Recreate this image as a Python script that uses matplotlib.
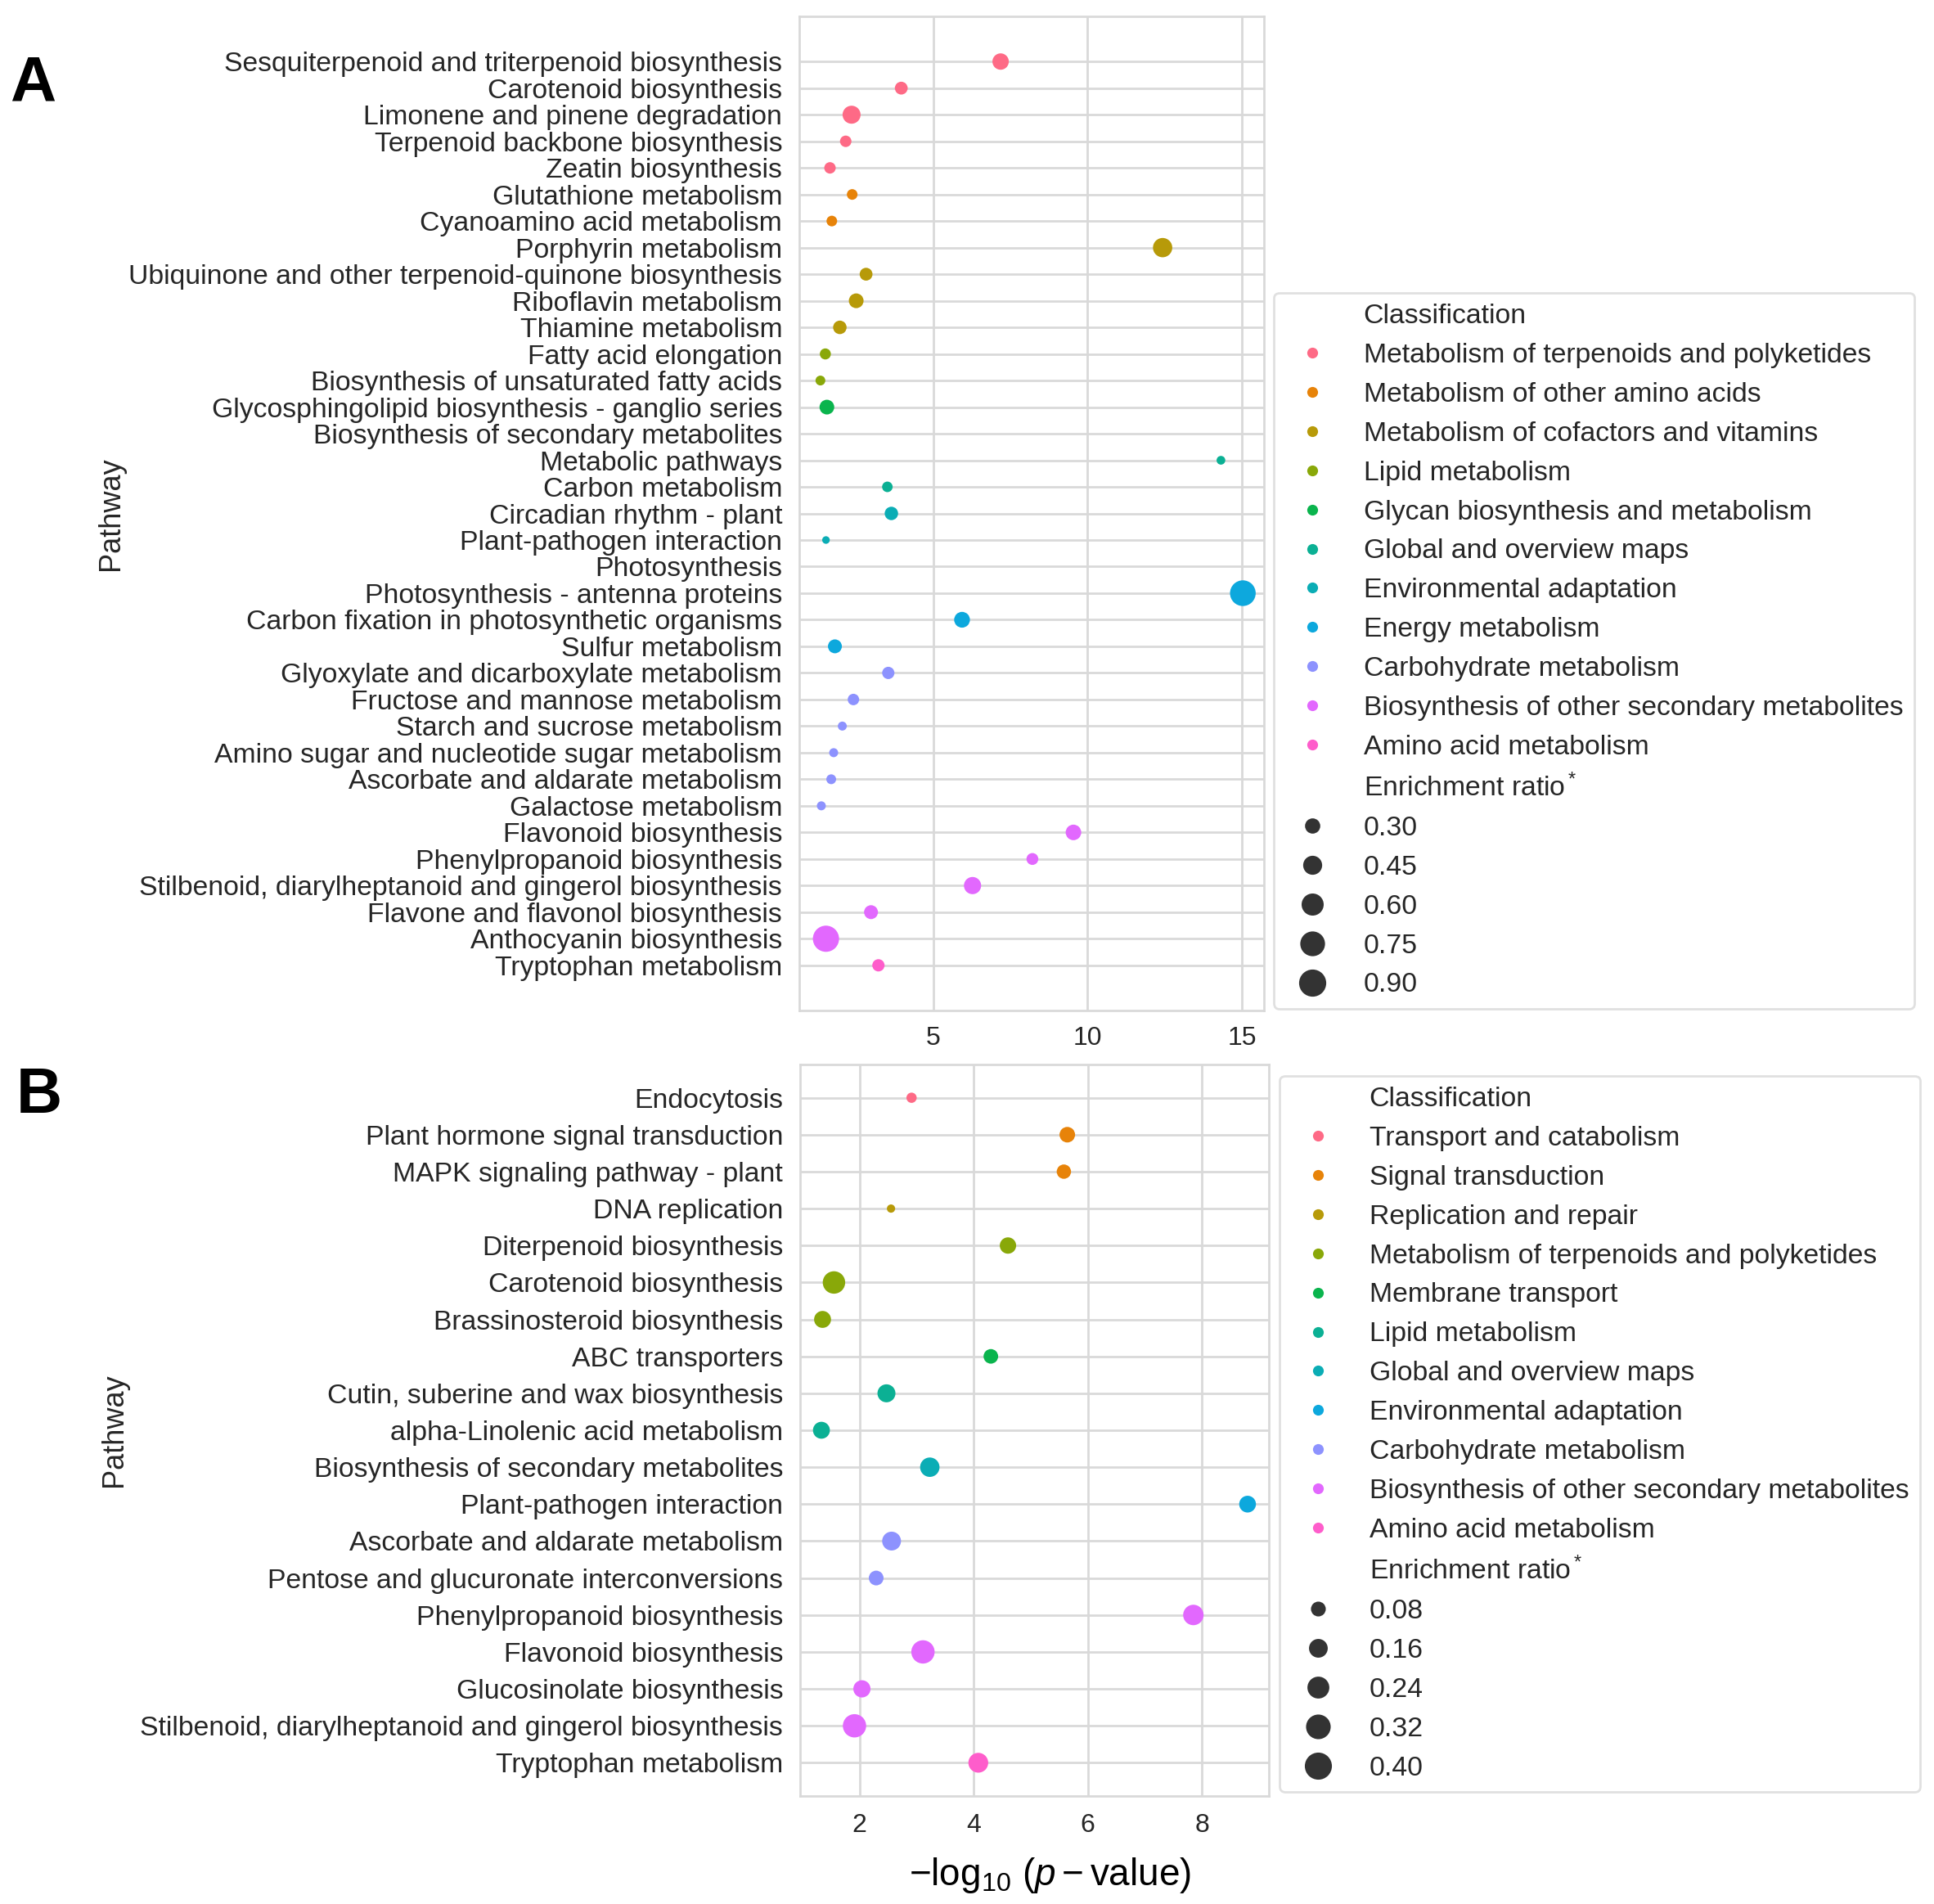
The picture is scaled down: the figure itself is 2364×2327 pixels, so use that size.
import numpy as np
import matplotlib
matplotlib.use("Agg")
import matplotlib.pyplot as plt
from matplotlib.lines import Line2D
import seaborn as sns

sns.set_style("whitegrid")
plt.rcParams["font.family"] = ["Liberation Sans", "DejaVu Sans"]
plt.rcParams["mathtext.fontset"] = "custom"
plt.rcParams["mathtext.rm"] = "Liberation Sans"
plt.rcParams["mathtext.it"] = "Liberation Sans:italic"
plt.rcParams["mathtext.bf"] = "Liberation Sans:bold"

# ---------------- Panel A data ----------------
a_pathways = [
    "Sesquiterpenoid and triterpenoid biosynthesis", "Carotenoid biosynthesis",
    "Limonene and pinene degradation", "Terpenoid backbone biosynthesis",
    "Zeatin biosynthesis", "Glutathione metabolism", "Cyanoamino acid metabolism",
    "Porphyrin metabolism", "Ubiquinone and other terpenoid-quinone biosynthesis",
    "Riboflavin metabolism", "Thiamine metabolism", "Fatty acid elongation",
    "Biosynthesis of unsaturated fatty acids",
    "Glycosphingolipid biosynthesis - ganglio series",
    "Biosynthesis of secondary metabolites", "Metabolic pathways",
    "Carbon metabolism", "Circadian rhythm - plant", "Plant-pathogen interaction",
    "Photosynthesis", "Photosynthesis - antenna proteins",
    "Carbon fixation in photosynthetic organisms", "Sulfur metabolism",
    "Glyoxylate and dicarboxylate metabolism", "Fructose and mannose metabolism",
    "Starch and sucrose metabolism", "Amino sugar and nucleotide sugar metabolism",
    "Ascorbate and aldarate metabolism", "Galactose metabolism",
    "Flavonoid biosynthesis", "Phenylpropanoid biosynthesis",
    "Stilbenoid, diarylheptanoid and gingerol biosynthesis",
    "Flavone and flavonol biosynthesis", "Anthocyanin biosynthesis",
    "Tryptophan metabolism",
]
a_classes = [
    "Metabolism of terpenoids and polyketides", "Metabolism of other amino acids",
    "Metabolism of cofactors and vitamins", "Lipid metabolism",
    "Glycan biosynthesis and metabolism", "Global and overview maps",
    "Environmental adaptation", "Energy metabolism", "Carbohydrate metabolism",
    "Biosynthesis of other secondary metabolites", "Amino acid metabolism",
]
a_class_idx = [0, 0, 0, 0, 0, 1, 1, 2, 2, 2, 2, 3, 3, 4, 5, 5, 5, 6, 6,
               7, 7, 7, 7, 8, 8, 8, 8, 8, 8, 9, 9, 9, 9, 9, 10]
a_logp = [7.18, 3.96, 2.35, 2.16, 1.65, 2.37, 1.71, 12.43, 2.82, 2.50, 1.97,
          1.50, 1.34, 1.55, np.nan, 14.32, 3.51, 3.64, 1.52, np.nan, 15.03,
          5.93, 1.81, 3.54, 2.41, 2.05, 1.77, 1.69, 1.37, 9.54, 8.21, 6.27,
          2.98, 1.52, 3.22]
a_ratio = [0.410, 0.276, 0.482, 0.233, 0.233, 0.210, 0.210, 0.545, 0.276, 0.344,
           0.299, 0.221, 0.188, 0.344, np.nan, 0.162, 0.207, 0.296, 0.138, np.nan,
           0.917, 0.385, 0.313, 0.258, 0.233, 0.168, 0.168, 0.188, 0.168, 0.376,
           0.245, 0.445, 0.313, 0.950, 0.258]
a_size_ticks = [0.30, 0.45, 0.60, 0.75, 0.90]
a_xticks = [5, 10, 15]

# ---------------- Panel B data ----------------
b_pathways = [
    "Endocytosis", "Plant hormone signal transduction", "MAPK signaling pathway - plant",
    "DNA replication", "Diterpenoid biosynthesis", "Carotenoid biosynthesis",
    "Brassinosteroid biosynthesis", "ABC transporters",
    "Cutin, suberine and wax biosynthesis", "alpha-Linolenic acid metabolism",
    "Biosynthesis of secondary metabolites", "Plant-pathogen interaction",
    "Ascorbate and aldarate metabolism", "Pentose and glucuronate interconversions",
    "Phenylpropanoid biosynthesis", "Flavonoid biosynthesis",
    "Glucosinolate biosynthesis",
    "Stilbenoid, diarylheptanoid and gingerol biosynthesis", "Tryptophan metabolism",
]
b_classes = [
    "Transport and catabolism", "Signal transduction", "Replication and repair",
    "Metabolism of terpenoids and polyketides", "Membrane transport",
    "Lipid metabolism", "Global and overview maps", "Environmental adaptation",
    "Carbohydrate metabolism", "Biosynthesis of other secondary metabolites",
    "Amino acid metabolism",
]
b_class_idx = [0, 1, 1, 2, 3, 3, 3, 4, 5, 5, 6, 7, 8, 8, 9, 9, 9, 9, 10]
b_logp = [2.91, 5.64, 5.58, 2.55, 4.60, 1.55, 1.35, 4.30, 2.47, 1.33, 3.23,
          8.80, 2.56, 2.29, 7.85, 3.11, 2.04, 1.91, 4.08]
b_ratio = [0.035, 0.128, 0.103, 0.010, 0.145, 0.305, 0.158, 0.108, 0.183, 0.158,
           0.219, 0.154, 0.204, 0.111, 0.247, 0.332, 0.164, 0.332, 0.230]
b_size_ticks = [0.08, 0.16, 0.24, 0.32, 0.40]
b_xticks = [2, 4, 6, 8]

# ---------------- figure ----------------
W, H, DPI = 2364, 2327, 100
fig = plt.figure(figsize=(W / DPI, H / DPI), dpi=DPI)
palette = sns.husl_palette(11, s=1.0)
PT = 72.0 / DPI
TXT = "#262626"
GRID = "#d9d9d9"
FS = 24.3
LFS = 24.3


def area_pt2(r, a, b):
    # marker diameter^2 in px^2 is linear in ratio
    d2 = a + b * np.asarray(r, dtype=float)
    return d2 * PT * PT


def panel(rect, pathways, classes, cidx, logp, ratio, size_ticks, xticks,
          size_ab, leg_anchor, letter, letter_xy, xpad):
    ax = fig.add_axes(rect)
    n = len(pathways)
    ypos = np.arange(n)
    cols = [palette[i] for i in cidx]
    ax.scatter(logp, ypos, s=area_pt2(ratio, *size_ab), c=cols,
               linewidths=0, zorder=3)
    ax.set_yticks(ypos)
    ax.set_yticklabels(pathways, fontsize=FS, color=TXT)
    ax.set_ylim(n - 1 + 0.05 * (n - 1), -0.05 * (n - 1))
    ax.set_xticks(xticks)
    ax.set_xticklabels([str(t) for t in xticks], fontsize=23, color=TXT)
    ax.tick_params(axis="y", length=0, pad=15)
    ax.tick_params(axis="x", length=0, pad=xpad)
    ax.grid(True, color=GRID, linewidth=2.0)
    for sp in ax.spines.values():
        sp.set_color(GRID)
        sp.set_linewidth(2.0)
    ax.set_ylabel("Pathway", fontsize=26, color=TXT)

    handles = [Line2D([], [], linestyle="", marker="", label="Classification")]
    for i, cl in enumerate(classes):
        handles.append(Line2D([], [], linestyle="", marker="o", markersize=9.5,
                              markeredgewidth=0, color=palette[i], label=cl))
    handles.append(Line2D([], [], linestyle="", marker="",
                          label="Enrichment ratio$^*$"))
    for t in size_ticks:
        ms = np.sqrt(area_pt2(t, *size_ab))
        handles.append(Line2D([], [], linestyle="", marker="o", markersize=ms,
                              markeredgewidth=1.5, color="#333333",
                              markeredgecolor="#333333", label=f"{t:.2f}"))
    leg = ax.legend(handles=handles, loc="lower left", bbox_to_anchor=leg_anchor,
                    bbox_transform=fig.transFigure, borderaxespad=0, fontsize=LFS,
                    labelspacing=0.5, handlelength=2.0, handletextpad=0.85,
                    borderpad=0.4, frameon=True)
    for t in leg.get_texts():
        t.set_color(TXT)
    leg.get_frame().set_edgecolor(GRID)
    leg.get_frame().set_linewidth(2.0)
    fig.text(letter_xy[0], letter_xy[1], letter, fontsize=56, fontweight="bold",
             ha="left", va="center", color="black")
    return ax


def fx(px):
    return px / W


def fy(py):
    return 1 - py / H


ax_a = panel([fx(977), fy(1235), fx(1545) - fx(977), fy(20) - fy(1235)],
             a_pathways, a_classes, a_class_idx, a_logp, a_ratio, a_size_ticks,
             a_xticks, (-73.0, 1155.0), (fx(1557), fy(1233)), "A",
             (fx(12), fy(103)), 14)
ax_a.yaxis.set_label_coords(-1.45, 0.5)

B_TOP, B_BOT = 1301, 2195
ax_b = panel([fx(978), fy(B_BOT), fx(1551) - fx(978), fy(B_TOP) - fy(B_BOT)],
             b_pathways, b_classes, b_class_idx, b_logp, b_ratio, b_size_ticks,
             b_xticks, (80.0, 2203.0), (fx(1564), fy(2190)), "B",
             (fx(20), fy(1340)), 15)
ax_b.yaxis.set_label_coords(-1.433, 0.5)
ax_b.set_xlabel(r"$-\log_{10}\,(p-\mathrm{value})$", fontsize=33, color="black")
ax_b.xaxis.set_label_coords(0.534, -(2268 - B_BOT) / (B_BOT - B_TOP))

fig.savefig("out.png", dpi=DPI, facecolor="white")
